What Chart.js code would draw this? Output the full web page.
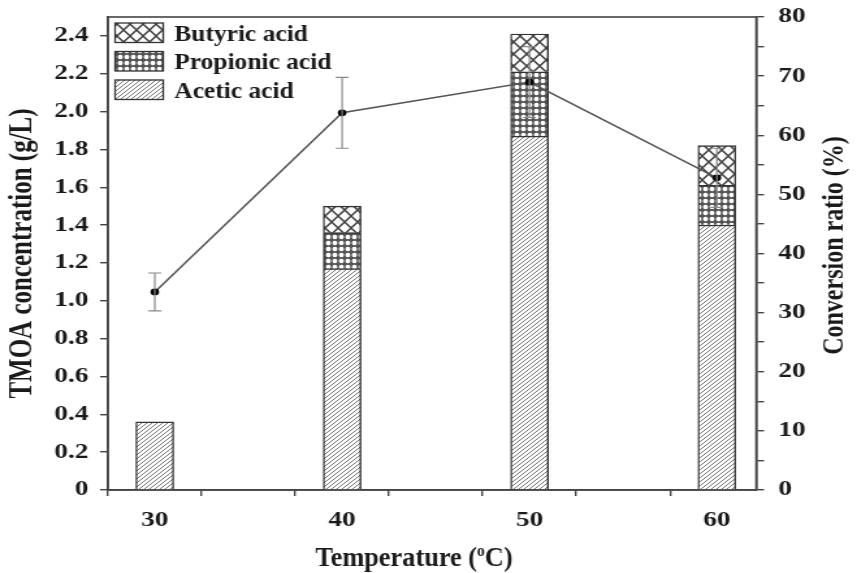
<!DOCTYPE html>
<html>
<head>
<meta charset="utf-8">
<script src="https://cdn.jsdelivr.net/npm/chart.js@4.4.1/dist/chart.umd.min.js"></script>
<style>
  html, body { margin: 0; padding: 0; background: #fff; }
  #wrap { width: 857px; height: 573px; }
</style>
</head>
<body>
<!-- 原图横向被拉伸约1.3倍：画布内部659px宽，用CSS拉到857px -->
<div id="wrap"><canvas id="tmoaChart" width="659" height="573" style="width:857px;height:573px"></canvas></div>
<script>
// 数据
const temperatures = [30, 40, 50, 60];
const aceticAcid = [0.36, 1.17, 1.87, 1.40];
const propionicAcid = [null, 0.19, 0.34, 0.21];
const butyricAcid = [null, 0.14, 0.20, 0.21];
const conversionRatio = [33.5, 63.8, 69.0, 52.8];
const conversionErr = [3.2, 6.0, 6.0, 5.0];

const FONT = 'Liberation Serif';
const INK = '#1a1a1a';
const STRETCH = 857 / 659;

// 生成填充图案
function makePattern(kind) {
    const c = document.createElement('canvas');
    let w = 4, h = 4;
    if (kind === 'dots') { w = 5; h = 6; }
    if (kind === 'cross') { w = 10; h = 12; }
    c.width = w;
    c.height = h;
    const g = c.getContext('2d');
    g.fillStyle = '#fff';
    g.fillRect(0, 0, w, h);
    if (kind === 'hatch') {
        g.strokeStyle = '#666';
        g.lineWidth = 0.9;
        g.beginPath();
        g.moveTo(-1, h + 1); g.lineTo(w + 1, -1);
        g.moveTo(-w / 2 - 1, h / 2 + 1); g.lineTo(w / 2 + 1, -h / 2 - 1);
        g.moveTo(w / 2 - 1, h * 1.5 + 1); g.lineTo(w * 1.5 + 1, h / 2 - 1);
        g.stroke();
    } else if (kind === 'dots') {
        g.fillStyle = '#555';
        g.fillRect(0, 0, w, h);
        g.fillStyle = '#fff';
        g.beginPath();
        g.ellipse(w / 2, h / 2, 1.9, 2.3, 0, 0, Math.PI * 2);
        g.fill();
    } else {
        g.lineWidth = 1.5;
        g.strokeStyle = '#444';
        g.beginPath();
        g.moveTo(0, 0); g.lineTo(w, h);
        g.moveTo(w, 0); g.lineTo(0, h);
        g.stroke();
    }
    return g.createPattern(c, 'repeat');
}

function toPoints(values) {
    return temperatures.map((t, i) => ({ x: t, y: values[i] }));
}

function fixedTicks(list) {
    return function(axis) {
        axis.ticks = list.map(v => ({ value: v }));
    };
}

// 横向文字要抵消CSS拉伸
function drawText(ctx, text, x, y, size, xScale) {
    ctx.save();
    ctx.translate(x, y);
    ctx.scale(xScale, 1);
    ctx.font = 'bold ' + size + 'px "' + FONT + '"';
    ctx.fillText(text, 0, 0);
    ctx.restore();
}

// 误差线、边框、图例与标题
const extrasPlugin = {
    id: 'extras',
    afterDatasetsDraw(chart) {
        const ctx = chart.ctx;
        const x = chart.scales.x;
        const y2 = chart.scales.y2;
        ctx.save();
        ctx.strokeStyle = '#888';
        ctx.lineWidth = 1.2;
        temperatures.forEach((t, i) => {
            const px = x.getPixelForValue(t);
            const top = y2.getPixelForValue(conversionRatio[i] + conversionErr[i]);
            const bot = y2.getPixelForValue(conversionRatio[i] - conversionErr[i]);
            ctx.beginPath();
            ctx.moveTo(px, top); ctx.lineTo(px, bot);
            ctx.moveTo(px - 5, top); ctx.lineTo(px + 5, top);
            ctx.moveTo(px - 5, bot); ctx.lineTo(px + 5, bot);
            ctx.stroke();
        });
        ctx.restore();
    },
    afterDraw(chart) {
        const ctx = chart.ctx;
        const a = chart.chartArea;
        ctx.save();
        ctx.strokeStyle = '#444';
        ctx.lineWidth = 1.6;
        ctx.strokeRect(a.left, a.top, a.right - a.left, a.bottom - a.top);

        // 图例（丁酸、丙酸、乙酸）
        ctx.textBaseline = 'alphabetic';
        ctx.textAlign = 'left';
        const legendSets = [2, 1, 0];
        legendSets.forEach((di, row) => {
            const ds = chart.data.datasets[di];
            const by = 23 + row * 28.5;
            ctx.fillStyle = ds.backgroundColor;
            ctx.fillRect(88.5, by, 37, 19.5);
            ctx.strokeStyle = ds.borderColor;
            ctx.lineWidth = 1.3;
            ctx.strokeRect(88.5, by, 37, 19.5);
            ctx.fillStyle = INK;
            drawText(ctx, ds.label, 134, by + 17.5, 24, 1.06 / STRETCH);
        });

        // X轴标题（带上标）
        const xs = 0.975 / STRETCH;
        ctx.font = 'bold 27px "' + FONT + '"';
        const w1 = ctx.measureText('Temperature (').width * xs;
        const w3 = ctx.measureText('C)').width * xs;
        ctx.font = 'bold 16px "' + FONT + '"';
        const w2 = ctx.measureText('o').width * xs;
        const sx = 414 / STRETCH - (w1 + w2 + w3) / 2;
        const ty = 566;
        drawText(ctx, 'Temperature (', sx, ty, 27, xs);
        drawText(ctx, 'o', sx + w1, ty - 10, 16, xs);
        drawText(ctx, 'C)', sx + w1 + w2, ty, 27, xs);

        // 右轴标题
        ctx.translate(835 / STRETCH, (a.top + a.bottom) / 2 - 8);
        ctx.rotate(-Math.PI / 2);
        ctx.textAlign = 'center';
        ctx.textBaseline = 'middle';
        ctx.font = 'bold 24px "' + FONT + '"';
        ctx.fillText('Conversion ratio (%)', 0, 0);
        ctx.restore();
    }
};

const tickFont = { family: FONT, size: 21, weight: 'bold' };
const axisGrid = { display: true, drawOnChartArea: false, drawTicks: true, tickLength: 6, color: '#444', lineWidth: 1.4 };
const axisBorder = { display: true, color: '#444', width: 1.6 };

function barSet(label, values, pattern) {
    return {
        label: label,
        data: toPoints(values),
        backgroundColor: makePattern(pattern),
        borderColor: '#333',
        borderWidth: 1.4,
        barThickness: 29,
        yAxisID: 'y',
        order: 1
    };
}

window.addEventListener('DOMContentLoaded', function() {
    const ctx = document.getElementById('tmoaChart').getContext('2d');

    new Chart(ctx, {
        type: 'bar',
        data: {
            datasets: [
                barSet('Acetic acid', aceticAcid, 'hatch'),
                barSet('Propionic acid', propionicAcid, 'dots'),
                barSet('Butyric acid', butyricAcid, 'cross'),
                {
                    type: 'line',
                    label: 'Conversion ratio',
                    data: toPoints(conversionRatio),
                    borderColor: '#555',
                    borderWidth: 1.5,
                    pointStyle: 'circle',
                    pointRadius: 2.6,
                    pointBackgroundColor: '#000',
                    pointBorderColor: '#000',
                    yAxisID: 'y2',
                    order: 0
                }
            ]
        },
        options: {
            responsive: false,
            animation: false,
            layout: { padding: { top: 17, left: 0, right: 0, bottom: 0 } },
            scales: {
                x: {
                    type: 'linear',
                    stacked: true,
                    offset: false,
                    min: 27.5,
                    max: 62.1,
                    afterBuildTicks: fixedTicks([30, 35, 40, 45, 50, 55, 60]),
                    afterFit: s => { s.height = 83; s.paddingLeft = 0; s.paddingRight = 0; },
                    grid: axisGrid,
                    border: axisBorder,
                    ticks: {
                        color: INK,
                        font: tickFont,
                        padding: 12,
                        maxRotation: 0,
                        callback: v => (v % 10 === 0 ? String(v) : '')
                    }
                },
                y: {
                    position: 'left',
                    stacked: true,
                    min: 0,
                    max: 2.5,
                    afterBuildTicks: fixedTicks([0, 0.1, 0.2, 0.3, 0.4, 0.5, 0.6, 0.7, 0.8, 0.9, 1.0, 1.1, 1.2, 1.3, 1.4, 1.5, 1.6, 1.7, 1.8, 1.9, 2.0, 2.1, 2.2, 2.3, 2.4, 2.5]),
                    afterFit: s => { s.width = 83; s.paddingTop = 0; s.paddingBottom = 0; },
                    grid: axisGrid,
                    border: axisBorder,
                    title: {
                        display: true,
                        text: 'TMOA concentration (g/L)',
                        color: INK,
                        font: { family: FONT, size: 25, weight: 'bold' },
                        padding: { top: 3, bottom: 0 }
                    },
                    ticks: {
                        color: INK,
                        font: tickFont,
                        padding: 9,
                        callback: function(v) {
                            const k = Math.round(v * 10);
                            if (k % 2 !== 0 || k > 24) return '';
                            return k === 0 ? '0' : (k / 10).toFixed(1);
                        }
                    }
                },
                y2: {
                    position: 'right',
                    min: 0,
                    max: 80,
                    afterBuildTicks: fixedTicks([0, 5, 10, 15, 20, 25, 30, 35, 40, 45, 50, 55, 60, 65, 70, 75, 80]),
                    afterFit: s => { s.width = 77.5; s.paddingTop = 0; s.paddingBottom = 0; },
                    grid: axisGrid,
                    border: axisBorder,
                    ticks: {
                        color: INK,
                        font: tickFont,
                        padding: 11,
                        callback: v => (v % 10 === 0 ? String(v) : '')
                    }
                }
            },
            plugins: {
                legend: { display: false },
                tooltip: { enabled: false }
            }
        },
        plugins: [extrasPlugin]
    });
});
</script>
</body>
</html>
